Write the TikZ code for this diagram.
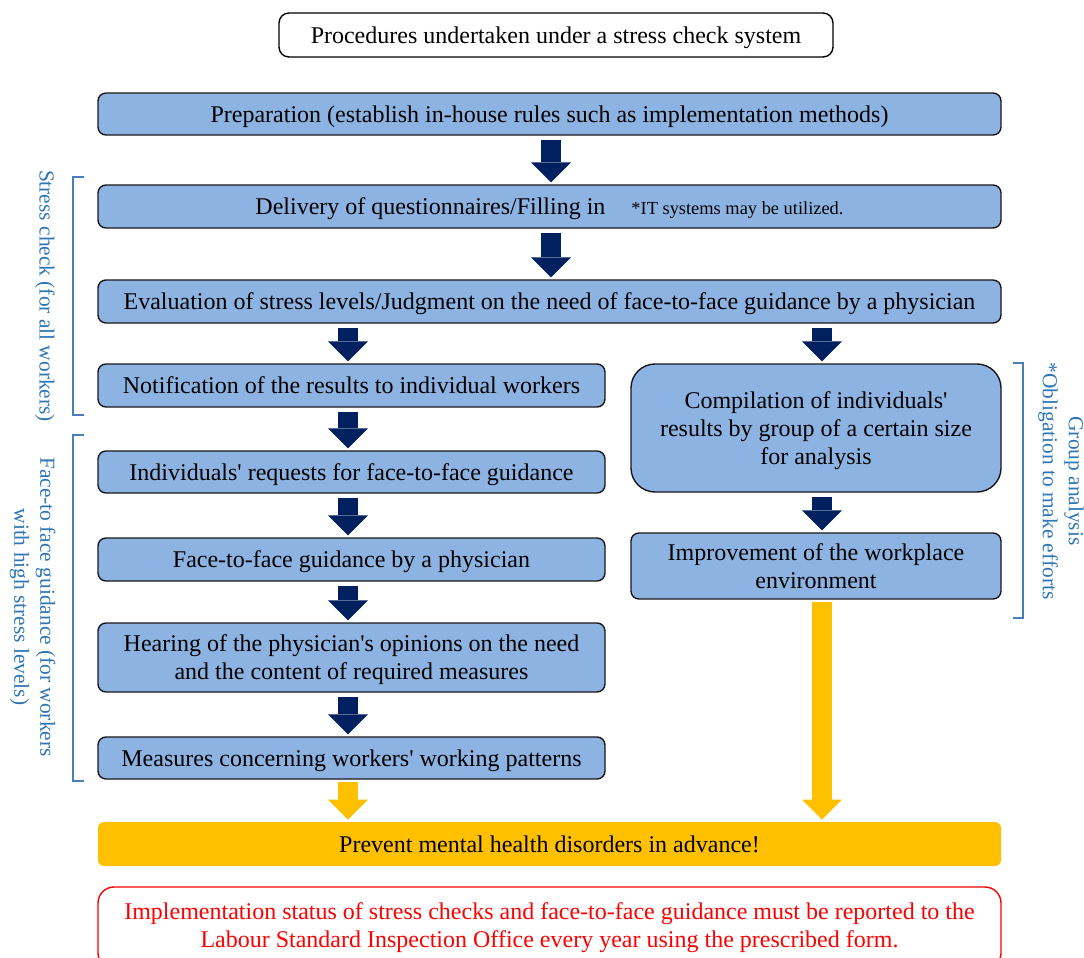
\documentclass[tikz,border=0pt]{standalone}
\usepackage{fontspec}
\setmainfont{Liberation Serif}
\usetikzlibrary{arrows.meta}
\definecolor{boxblue}{HTML}{8DB3E2}
\definecolor{navyc}{HTML}{002060}
\definecolor{goldc}{HTML}{FFC000}
\definecolor{lblue}{HTML}{2E75B6}
\definecolor{brk}{HTML}{4A7EBB}
\newcommand\aps{\textquotesingle}
\begin{document}
\begin{tikzpicture}[x=0.5pt,y=-0.5pt,
  base/.style={font=\fontsize{12}{14}\selectfont, inner sep=0pt, align=center},
  low/.style={text depth=0pt},
  bbox/.style={base, low, draw=black!90, line width=0.7pt, fill=boxblue, rounded corners=4pt},
  wide/.style={minimum width=451.5pt},
  half/.style={minimum width=253.5pt},
  rhalf/.style={minimum width=185pt},
  darr/.style={draw=navyc, line width=10pt, -{Triangle[width=20pt,length=10pt,line width=0pt]}, shorten <=2pt, shorten >=1pt},
  garr/.style={draw=goldc, line width=10pt, -{Triangle[width=20pt,length=10pt,line width=0pt]}, shorten <=1pt, shorten >=1pt},
  brack/.style={draw=brk, line width=0.8pt},
  blab/.style={base, text=lblue, rotate=-90, font=\fontsize{10.7}{13}\selectfont}
]
\useasboundingbox (0,0) rectangle (1084,958);

% title
\node[base, low, draw=black, line width=0.7pt, fill=white, rounded corners=5pt, minimum width=277pt, minimum height=22pt] (title) at (556,35) {Procedures undertaken under a stress check system};

% main column
\node[bbox, wide, minimum height=21pt] (prep) at (549.5,114) {Preparation (establish in-house rules such as implementation methods)};
\node[bbox, wide, minimum height=21.5pt] (deliv) at (549.5,206.5) {Delivery of questionnaires/Filling in\hspace{13pt}{\fontsize{9.2}{11}\selectfont *IT systems may be utilized.}};
\node[bbox, wide, minimum height=21.5pt] (eval) at (549.5,301.5) {Evaluation of stress levels/Judgment on the need of face-to-face guidance by a physician};

% left column
\node[bbox, half, minimum height=21.5pt] (notif) at (351.5,385.5) {Notification of the results to individual workers};
\node[bbox, half, minimum height=21pt] (indiv) at (351.5,472) {Individuals\aps{} requests for face-to-face guidance};
\node[bbox, half, minimum height=21.5pt] (f2f) at (351.5,559.5) {Face-to-face guidance by a physician};
\node[bbox, half, minimum height=34.5pt] (hear) at (351.5,657.5) {Hearing of the physician\aps s opinions on the need\\and the content of required measures};
\node[bbox, half, minimum height=21pt] (meas) at (351.5,758) {Measures concerning workers\aps{} working patterns};

% right column
\node[bbox, rhalf, minimum height=64pt, rounded corners=12pt] (comp) at (816,428) {Compilation of individuals\aps\\results by group of a certain size\\for analysis};
\node[bbox, rhalf, minimum height=33pt] (impr) at (816,566) {Improvement of the workplace\\environment};

% bottom
\node[base, low, fill=goldc, rounded corners=3pt, wide, minimum height=22pt] (prev) at (549.5,844) {Prevent mental health disorders in advance!};
\node[base, draw=red, line width=0.7pt, rounded corners=8pt, wide, minimum height=41pt, text=red] (rep) at (549.5,928) {Implementation status of stress checks and face-to-face guidance must be reported to the\\Labour Standard Inspection Office every year using the prescribed form.};

% arrow columns
\coordinate (cM) at (551,0);
\coordinate (cL) at (348,0);
\coordinate (cR) at (822,0);

\draw[darr] (prep.south -| cM) -- (deliv.north -| cM);
\draw[darr] (deliv.south -| cM) -- (eval.north -| cM);
\draw[darr] (eval.south -| cL) -- (notif.north -| cL);
\draw[darr] (eval.south -| cR) -- (comp.north -| cR);
\draw[darr] (notif.south -| cL) -- (indiv.north -| cL);
\draw[darr] (indiv.south -| cL) -- (f2f.north -| cL);
\draw[darr] (f2f.south -| cL) -- (hear.north -| cL);
\draw[darr] (hear.south -| cL) -- (meas.north -| cL);
\draw[darr] (comp.south -| cR) -- (impr.north -| cR);
\draw[garr] (meas.south -| cL) -- (prev.north -| cL);
\draw[garr] (impr.south -| cR) -- (prev.north -| cR);

% brackets
\draw[brack] (84,177) -| (73,415) -- (84,415);
\draw[brack] (84,435) -| (73,781) -- (84,781);
\draw[brack] (1013,363) -| (1023,618) -- (1013,618);

\node[blab] (lsc) at (45,296) {Stress check (for all workers)};
\node[blab] (lft) at (32.5,607) {Face-to face guidance (for workers\\with high stress levels)};
\node[blab] (lga) at (1061,481) {Group analysis\\*Obligation to make efforts};
\end{tikzpicture}
\end{document}
